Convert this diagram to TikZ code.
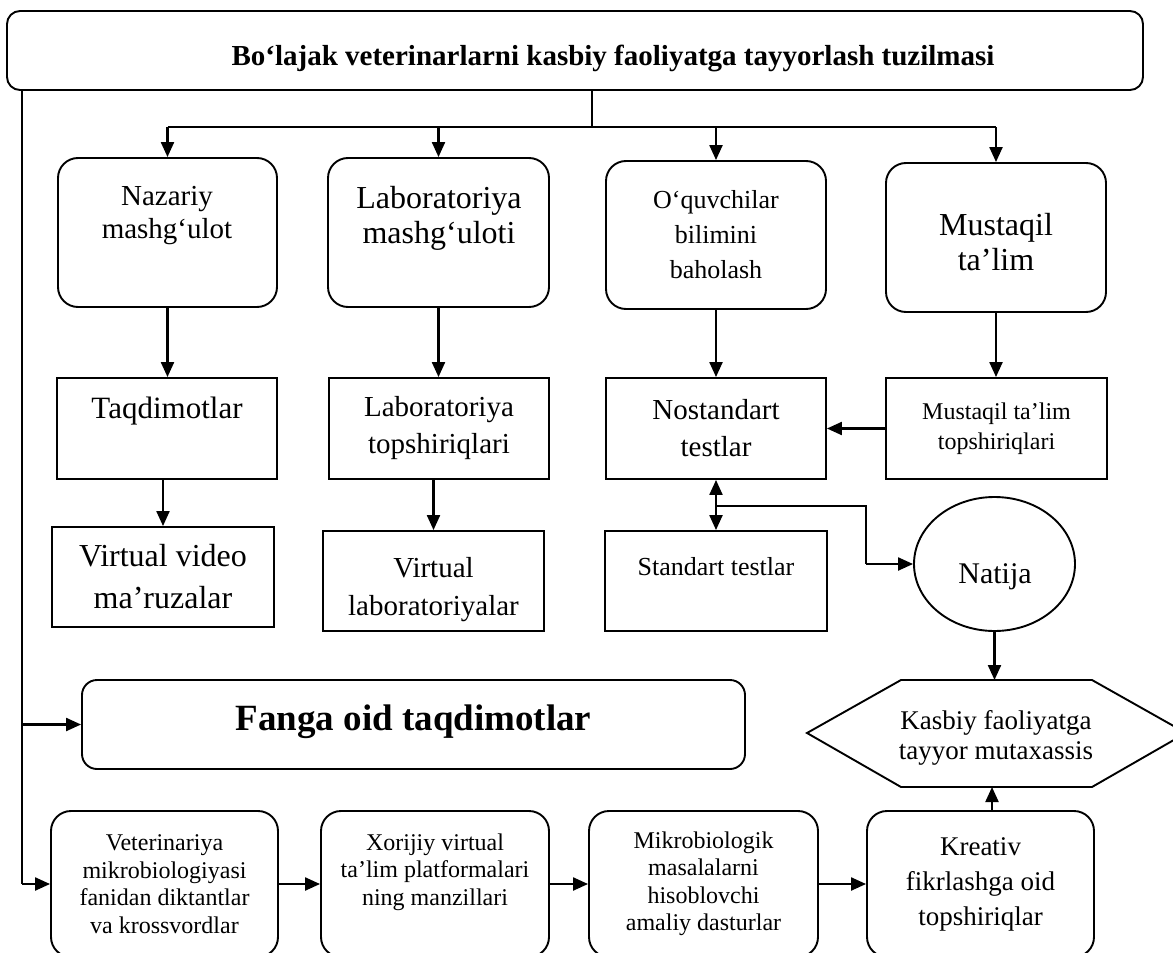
\documentclass[tikz,border=0pt]{standalone}
\usepackage{fontspec}
\setmainfont{Liberation Serif}
\usetikzlibrary{arrows.meta,shapes.geometric}
\newcommand{\fsz}[2]{\fontsize{#1}{#2}\selectfont}
\begin{document}
\begin{tikzpicture}
[
    x=1pt, y=-1pt,
    box/.style={draw, line width=1.9pt, inner sep=0pt, align=center},
    rbox/.style={box, rounded corners=20pt},
    txt/.style={align=center, inner sep=0pt},
    arr/.style={line width=2.2pt, -{Triangle[length=15pt, width=13pt]}},
]
\useasboundingbox (0,0) rectangle (1173,953);
\node[rbox, rounded corners=13pt, minimum width=1136pt, minimum height=79pt] (title) at (575,50.5) {};
\node[txt, anchor=base, font=\bfseries\fsz{29}{33}] (titlet) at (613,65) {Bo‘lajak veterinarlarni kasbiy faoliyatga tayyorlash tuzilmasi};
\node[rbox, minimum width=219pt, minimum height=149pt] (naz) at (167.5,232.5) {};
\node[rbox, minimum width=221pt, minimum height=149pt] (lab) at (438.5,232.5) {};
\node[rbox, minimum width=220pt, minimum height=148pt, font=\fsz{26}{35}] (oqu) at (716,235) {O‘quvchilar\\bilimini\\baholash};
\node[rbox, minimum width=220pt, minimum height=149pt] (mus) at (996,237.5) {};
\node[txt, font=\fsz{29}{33}] (nazt) at (167,216) {Nazariy\\mashg‘ulot};
\node[txt, font=\fsz{32}{35}] (labt) at (439,218) {Laboratoriya\\mashg‘uloti};
\node[txt, font=\fsz{32}{35}] (must) at (996,242) {Mustaqil\\ta’lim};
\node[box, minimum width=220pt, minimum height=101pt] (taqd) at (167,428.5) {};
\node[txt, font=\fsz{31}{35}] (taqdt) at (167,411) {Taqdimotlar};
\node[box, minimum width=220pt, minimum height=101pt, font=\fsz{29}{37}] (labtop) at (439,428.5) {Laboratoriya\\topshiriqlari};
\node[box, minimum width=220pt, minimum height=101pt, font=\fsz{29}{37}] (nost) at (716,428.5) {Nostandart\\testlar};
\node[box, minimum width=221pt, minimum height=101pt, font=\fsz{24}{30}] (mustop) at (996.5,428.5) {Mustaqil ta’lim\\topshiriqlari};
\node[box, minimum width=222pt, minimum height=100pt, font=\fsz{32}{42}] (vvid) at (163,577) {Virtual video\\ma’ruzalar};
\node[box, minimum width=221pt, minimum height=100pt] (vlab) at (433.5,581) {};
\node[txt, font=\fsz{29}{38}] (vlabt) at (433.5,590) {Virtual\\laboratoriyalar};
\node[box, minimum width=222pt, minimum height=100pt] (stan) at (716,581) {};
\node[txt, font=\fsz{26}{30}] (stant) at (716,567) {Standart testlar};
\node[box, ellipse, minimum width=161pt, minimum height=134pt] (nat) at (994.5,564) {};
\node[txt, font=\fsz{30}{34}] (natt) at (995,577) {Natija};
\node[rbox, rounded corners=15pt, minimum width=663pt, minimum height=89pt] (fan) at (413.5,724.5) {};
\node[txt, font=\bfseries\fsz{37}{40}] (fant) at (413.5,722) {Fanga oid taqdimotlar};
\draw[line width=1.9pt] (807,733) -- (901,680) -- (1092,680) -- (1186,733) -- (1092,787) -- (901,787) -- cycle;
\node[txt, font=\fsz{27}{30}] (kas) at (996,738) {Kasbiy faoliyatga\\tayyor mutaxassis};
\node[rbox, minimum width=227pt, minimum height=146pt, font=\fsz{24}{27.5}] (vet) at (164.5,884) {Veterinariya\\mikrobiologiyasi\\fanidan diktantlar\\va krossvordlar};
\node[rbox, minimum width=228pt, minimum height=146pt] (xor) at (435,884) {};
\node[txt, font=\fsz{24}{27.5}] (xort) at (435,872) {Xorijiy virtual\\ta’lim platformalari\\ning manzillari};
\node[rbox, minimum width=229pt, minimum height=146pt, font=\fsz{24}{27.5}] (mik) at (703.5,884) {Mikrobiologik\\masalalarni\\hisoblovchi\\amaliy dasturlar};
\node[rbox, minimum width=227pt, minimum height=146pt, font=\fsz{27}{35}] (kre) at (980.5,884) {Kreativ\\fikrlashga oid\\topshiriqlar};
\coordinate (bus) at (592,127);
\coordinate (spine) at (22,884);
\coordinate (brk) at (716,506);
\coordinate (elb) at (866,564);
\coordinate (hextop) at (998,680);
\coordinate (hexbot) at (992,787);
\draw[line width=1.6pt] (title.south -| bus) -- (bus);
\draw[line width=1.6pt] (naz.north |- bus) -- (mus.north |- bus);
\foreach \n in {naz,lab,oqu,mus}
    \draw[arr] (\n.north |- bus) -- (\n.north);
\foreach \a/\b in {naz/taqd,lab/labtop,oqu/nost,mus/mustop}
    \draw[arr] (\a.south) -- (\a.south |- \b.north);
\foreach \a/\b in {taqd/vvid,labtop/vlab}
    \draw[arr] (\b.north |- \a.south) -- (\b.north);
\draw[arr] (mustop.west) -- (nost.east);
\draw[arr, {Triangle[length=15pt, width=13pt]}-{Triangle[length=15pt, width=13pt]}] (nost.south) -- (stan.north);
\draw[line width=1.1pt] (brk) -| (elb);
\draw[arr] (elb) -- (nat.west);
\draw[arr] (nat.south) -- (nat.south |- hextop);
\draw[arr] (hexbot |- kre.north) -- (hexbot);
\draw[line width=1.6pt] (spine |- title.south) -- (spine);
\draw[arr] (spine |- fan.west) -- (fan.west);
\draw[arr] (spine |- vet.west) -- (vet.west);
\foreach \a/\b in {vet/xor,xor/mik,mik/kre}
    \draw[arr] (\a) -- (\b);
\end{tikzpicture}
\end{document}
